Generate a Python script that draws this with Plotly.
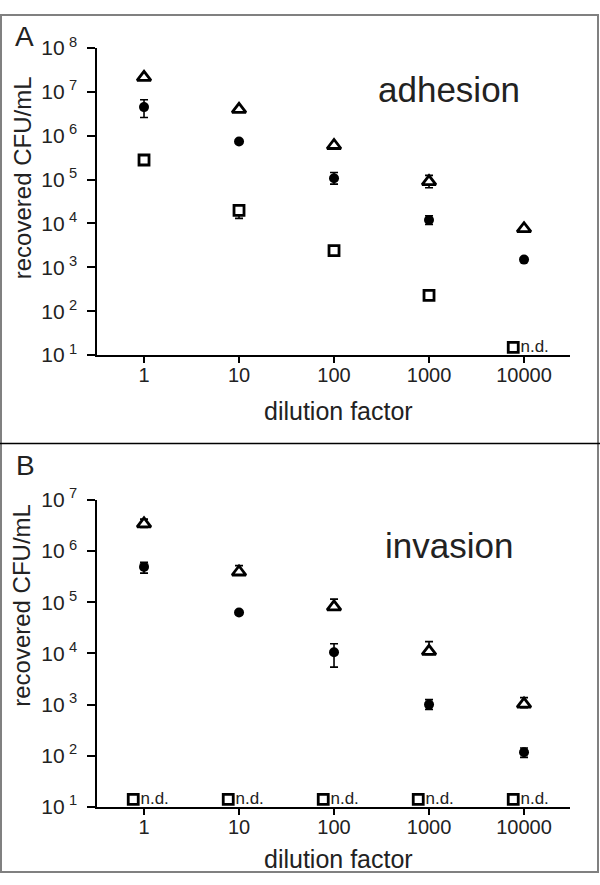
import plotly.graph_objects as go

# ---------------- data ----------------
dilution = [1, 10, 100, 1000, 10000]
tick_labels_x = ["1", "10", "100", "1000", "10000"]

# Panel A: adhesion
A_tri = [2.15e7, 4.0e6, 6.0e5, 9.0e4, 7.6e3]
A_tri_hi = [2.0e6, 4.0e5, 6.0e4, 3.5e4, 7.0e2]
A_tri_lo = [2.0e6, 4.0e5, 6.0e4, 2.5e4, 7.0e2]

A_cir = [4.5e6, 7.4e5, 1.07e5, 1.2e4, 1.5e3]
A_cir_hi = [2.1e6, 6.0e4, 3.8e4, 3.0e3, 1.0e2]
A_cir_lo = [1.9e6, 6.0e4, 2.8e4, 2.5e3, 1.0e2]

A_sq = [2.8e5, 2.0e4, 2.4e3, 2.3e2, None]
A_sq_hi = [2.0e4, 6.0e3, 2.0e2, 3.0e1, 0]
A_sq_lo = [2.0e4, 6.9e3, 2.0e2, 3.0e1, 0]
A_nd = [10000]

# Panel B: invasion
B_tri = [3.4e6, 3.9e5, 8.1e4, 1.1e4, 1.02e3]
B_tri_hi = [0.8e6, 1.3e5, 3.4e4, 6.0e3, 3.5e2]
B_tri_lo = [0.5e6, 0.5e5, 1.0e4, 1.5e3, 1.5e2]

B_cir = [4.9e5, 6.3e4, 1.05e4, 1.0e3, 1.17e2]
B_cir_hi = [1.1e5, 5.0e3, 5.0e3, 2.5e2, 2.5e1]
B_cir_lo = [1.2e5, 5.0e3, 5.1e3, 2.0e2, 2.4e1]

B_nd = [1, 10, 100, 1000, 10000]

A_yticks = [10, 100, 1000, 1e4, 1e5, 1e6, 1e7, 1e8]
A_yexp = ["1", "2", "3", "4", "5", "6", "7", "8"]
B_yticks = [10, 100, 1000, 1e4, 1e5, 1e6, 1e7]
B_yexp = ["1", "2", "3", "4", "5", "6", "7"]

# ---------------- style ----------------
W, H = 600, 885
FONT = "Liberation Sans, Arial, sans-serif"
TXT = "#222222"
ND_SHIFT = 0.77      # n.d. marker drawn slightly left of the tick
A_ND_Y = 15
B_ND_Y = 14


def px(x):
    return x / W


def py(y):
    return 1 - y / H


def exp_labels(exps):
    return ["10\u2009<sup>" + e + "</sup>" for e in exps]


fig = go.Figure()


def add_series(xa, ya, y, hi, lo, symbol, size, hollow):
    xs = [d for d, v in zip(dilution, y) if v is not None]
    ys = [v for v in y if v is not None]
    his = [h for h, v in zip(hi, y) if v is not None]
    los = [l for l, v in zip(lo, y) if v is not None]
    fig.add_trace(go.Scatter(
        x=xs, y=ys, mode="markers", xaxis=xa, yaxis=ya, showlegend=False,
        marker=dict(symbol=symbol, size=size,
                    color="white" if hollow else "black",
                    line=dict(color="black", width=2.8 if hollow else 0)),
        error_y=dict(type="data", symmetric=False, array=his, arrayminus=los,
                     color="black", thickness=1.6, width=4),
    ))


def add_nd(xa, ya, nd, ndy):
    fig.add_trace(go.Scatter(
        x=[d * ND_SHIFT for d in nd], y=[ndy] * len(nd), mode="markers+text",
        xaxis=xa, yaxis=ya, showlegend=False,
        text=["n.d."] * len(nd), textposition="middle right",
        textfont=dict(family=FONT, size=17, color=TXT),
        marker=dict(symbol="square", size=10, color="white",
                    line=dict(color="black", width=2.8)),
    ))


# Panel A
add_series("x", "y", A_tri, A_tri_hi, A_tri_lo, "triangle-up", 12, True)
add_series("x", "y", A_cir, A_cir_hi, A_cir_lo, "circle", 10, False)
add_series("x", "y", A_sq, A_sq_hi, A_sq_lo, "square", 10, True)
add_nd("x", "y", A_nd, A_ND_Y)

# Panel B
add_series("x2", "y2", B_tri, B_tri_hi, B_tri_lo, "triangle-up", 12, True)
add_series("x2", "y2", B_cir, B_cir_hi, B_cir_lo, "circle", 10, False)
add_nd("x2", "y2", B_nd, B_ND_Y)

xrange = [-0.495, 4.484]
xdom = [px(97), px(570)]

common_x = dict(type="log", range=xrange, domain=xdom, tickvals=dilution,
                ticktext=tick_labels_x, ticks="outside", ticklen=6, tickwidth=1.5,
                tickcolor="black", showline=True, linecolor="black", linewidth=1.5,
                showgrid=False, zeroline=False, ticklabelstandoff=-5,
                tickfont=dict(family=FONT, size=20, color=TXT))
common_y = dict(type="log", ticks="outside", ticklen=8, tickwidth=1.5,
                tickcolor="black", showline=True, linecolor="black", linewidth=1.5,
                showgrid=False, zeroline=False, ticklabelstandoff=6,
                tickfont=dict(family=FONT, size=21, color=TXT))

fig.update_layout(
    width=W, height=H, autosize=False,
    margin=dict(l=0, r=0, t=0, b=0),
    paper_bgcolor="white", plot_bgcolor="white",
    xaxis=dict(**common_x, anchor="y"),
    yaxis=dict(**common_y, range=[1, 8], domain=[py(351), py(35)],
               tickvals=A_yticks, ticktext=exp_labels(A_yexp), anchor="x"),
    xaxis2=dict(**common_x, anchor="y2"),
    yaxis2=dict(**common_y, range=[1, 7], domain=[py(816), py(500)],
                tickvals=B_yticks, ticktext=exp_labels(B_yexp), anchor="x2"),
)

annots = [
    ("A", 24, 23, 28, 0), ("B", 25, 465, 28, 0),
    ("adhesion", 449, 78, 35, 0), ("invasion", 449, 547, 35, 0),
    ("dilution factor", 338, 409, 25, 0), ("dilution factor", 338, 870, 25, 0),
    ("recovered CFU/mL", 22, 169, 24, -90), ("recovered CFU/mL", 22, 609, 24, -90),
]
for text, x, y, size, ang in annots:
    fig.add_annotation(text=text, x=px(x), y=py(y), xref="paper", yref="paper",
                       xanchor="center", yanchor="middle", showarrow=False,
                       textangle=ang, font=dict(family=FONT, size=size, color=TXT))

# frame and separator
fig.add_shape(type="rect", xref="paper", yref="paper", x0=px(1), x1=px(598),
              y0=py(883), y1=py(1), line=dict(color="#808080", width=2))
fig.add_shape(type="line", xref="paper", yref="paper", x0=0, x1=1,
              y0=py(442), y1=py(442), line=dict(color="black", width=1.5))

fig.write_html("out.html", config={"displayModeBar": False},
               post_script="document.body.style.margin='0';document.body.style.padding='0';")
